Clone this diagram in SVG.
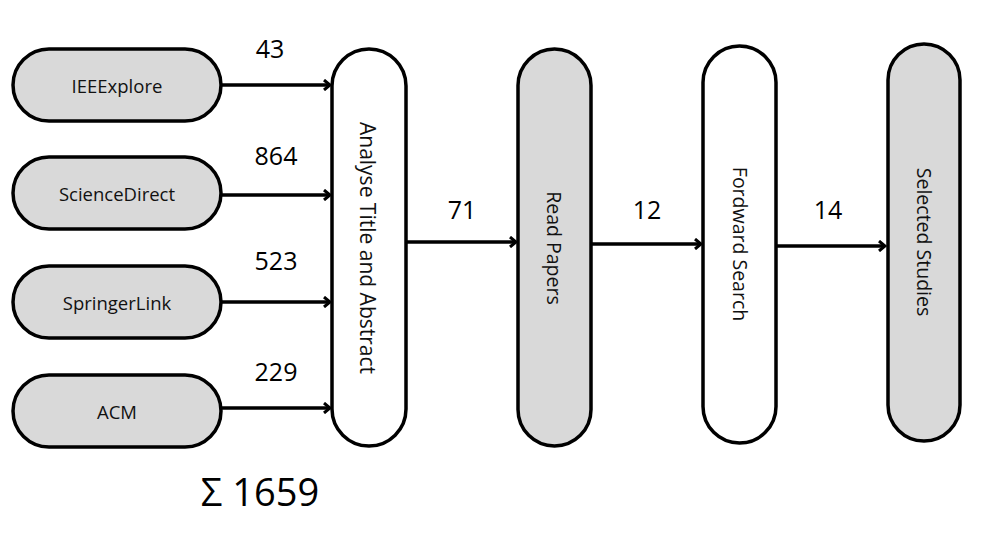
<svg xmlns="http://www.w3.org/2000/svg" width="982" height="536" viewBox="0 0 982 536">
<style>
.n{stroke:#000;stroke-width:3.5}
.g{fill:#d9d9d9}
.w{fill:#fff}
.t{font-family:"Open Sans","Liberation Sans",sans-serif;font-size:18.5px;fill:#111;text-anchor:middle;dominant-baseline:central}
.r{font-size:19.5px}
.l{font-family:"Open Sans","Liberation Sans",sans-serif;font-size:25px;fill:#000;text-anchor:middle}
.c{stroke:#000;stroke-width:3.5;fill:none;marker-end:url(#a)}
</style>
<defs>
<marker id="a" markerWidth="10" markerHeight="12" refX="8" refY="6" orient="auto" markerUnits="userSpaceOnUse">
<polyline points="2,1 8,6 2,11" fill="none" stroke="#000" stroke-width="3"/>
</marker>
</defs>
<rect width="982" height="536" fill="#fff"/>
<g id="connectors">
<line class="c" x1="221" y1="85" x2="330" y2="85"/>
<line class="c" x1="221" y1="195" x2="330" y2="195"/>
<line class="c" x1="221" y1="302" x2="330" y2="302"/>
<line class="c" x1="221" y1="408" x2="330" y2="408"/>
<line class="c" x1="406" y1="242" x2="516" y2="242"/>
<line class="c" x1="591" y1="244" x2="701" y2="244"/>
<line class="c" x1="776" y1="246" x2="885" y2="246"/>
<text class="l" x="270" y="58">43</text>
<text class="l" x="276" y="165">864</text>
<text class="l" x="276" y="270">523</text>
<text class="l" x="276" y="381">229</text>
<text class="l" x="462" y="219">71</text>
<text class="l" x="647" y="219">12</text>
<text class="l" x="828" y="219">14</text>
</g>
<g id="ieee"><rect class="n g" x="13" y="49" width="208" height="72" rx="36"/><text class="t" x="117" y="85">IEEExplore</text></g>
<g id="sciencedirect"><rect class="n g" x="13" y="157" width="208" height="72" rx="36"/><text class="t" x="117" y="193">ScienceDirect</text></g>
<g id="springer"><rect class="n g" x="13" y="266" width="208" height="72" rx="36"/><text class="t" x="117" y="302">SpringerLink</text></g>
<g id="acm"><rect class="n g" x="13" y="375" width="208" height="72" rx="36"/><text class="t" x="117" y="411">ACM</text></g>
<g id="analyse"><rect class="n w" x="332" y="49" width="74" height="397" rx="37"/><text class="t" font-size="21" transform="translate(368,248) rotate(90)" style="font-size:21px">Analyse Title and Abstract</text></g>
<g id="read"><rect class="n g" x="518" y="49" width="73" height="397" rx="36.5"/><text class="t r" transform="translate(554,248) rotate(90)">Read Papers</text></g>
<g id="forward"><rect class="n w" x="703" y="46" width="73" height="397" rx="36.5"/><text class="t r" transform="translate(740,244) rotate(90)">Fordward Search</text></g>
<g id="selected"><rect class="n g" x="888" y="44" width="72" height="397" rx="36"/><text class="t r" transform="translate(924,242) rotate(90)">Selected Studies</text></g>
<text x="260" y="506" font-family="'Open Sans','Liberation Sans',sans-serif" font-size="38" text-anchor="middle" fill="#000">Σ 1659</text>
</svg>
